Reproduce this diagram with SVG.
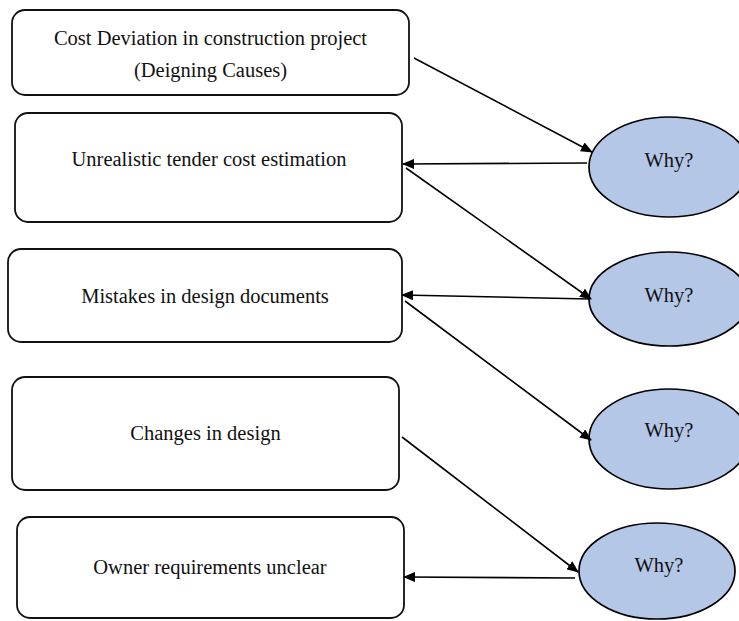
<svg xmlns="http://www.w3.org/2000/svg" width="739" height="621" viewBox="0 0 739 621">
<style>
.box{fill:#ffffff;stroke:#111111;stroke-width:1.8}
.why{fill:#b4c7e7;stroke:#000000;stroke-width:1.7}
.t{font-family:"Liberation Serif","Times New Roman",serif;font-size:20.5px;fill:#111111;text-anchor:middle}
.c{fill:none;stroke:#000000;stroke-width:1.6}
</style>
<defs>
<marker id="ah" markerWidth="12" markerHeight="10" refX="11" refY="5" orient="auto" markerUnits="userSpaceOnUse">
<path d="M0,0 L12,5 L0,10 Z" fill="#000000"/>
</marker>
</defs>
<rect width="739" height="621" fill="#ffffff"/>
<g id="n1"><rect class="box" x="12" y="10" width="397" height="85" rx="13"/>
<text class="t" x="210.5" y="45">Cost Deviation in construction project</text>
<text class="t" x="210.5" y="77">(Deigning Causes)</text></g>
<g id="n2"><rect class="box" x="15" y="113" width="387" height="109" rx="13"/>
<text class="t" x="209" y="166">Unrealistic tender cost estimation</text></g>
<g id="n3"><rect class="box" x="8" y="249" width="394" height="93" rx="13"/>
<text class="t" x="205" y="303">Mistakes in design documents</text></g>
<g id="n4"><rect class="box" x="12" y="377" width="387" height="113" rx="13"/>
<text class="t" x="205.5" y="440">Changes in design</text></g>
<g id="n5"><rect class="box" x="17" y="517" width="387" height="101" rx="13"/>
<text class="t" x="210" y="574">Owner requirements unclear</text></g>
<g id="w1"><ellipse class="why" cx="669" cy="167" rx="80" ry="50"/>
<text class="t" x="669" y="167">Why?</text></g>
<g id="w2"><ellipse class="why" cx="669" cy="299" rx="80" ry="47"/>
<text class="t" x="669" y="302">Why?</text></g>
<g id="w3"><ellipse class="why" cx="669" cy="439" rx="80" ry="50"/>
<text class="t" x="669" y="437">Why?</text></g>
<g id="w4"><ellipse class="why" cx="657" cy="571" rx="78" ry="48"/>
<text class="t" x="659" y="572">Why?</text></g>
<g id="connectors">
<line class="c" x1="414" y1="58" x2="592" y2="152" marker-end="url(#ah)"/>
<line class="c" x1="587" y1="163" x2="403" y2="164" marker-end="url(#ah)"/>
<line class="c" x1="406" y1="168" x2="591" y2="299" marker-end="url(#ah)"/>
<line class="c" x1="589" y1="299" x2="402" y2="295" marker-end="url(#ah)"/>
<line class="c" x1="405" y1="301" x2="591" y2="440" marker-end="url(#ah)"/>
<line class="c" x1="402" y1="437" x2="578" y2="572" marker-end="url(#ah)"/>
<line class="c" x1="575" y1="578" x2="404" y2="577" marker-end="url(#ah)"/>
</g>
</svg>
